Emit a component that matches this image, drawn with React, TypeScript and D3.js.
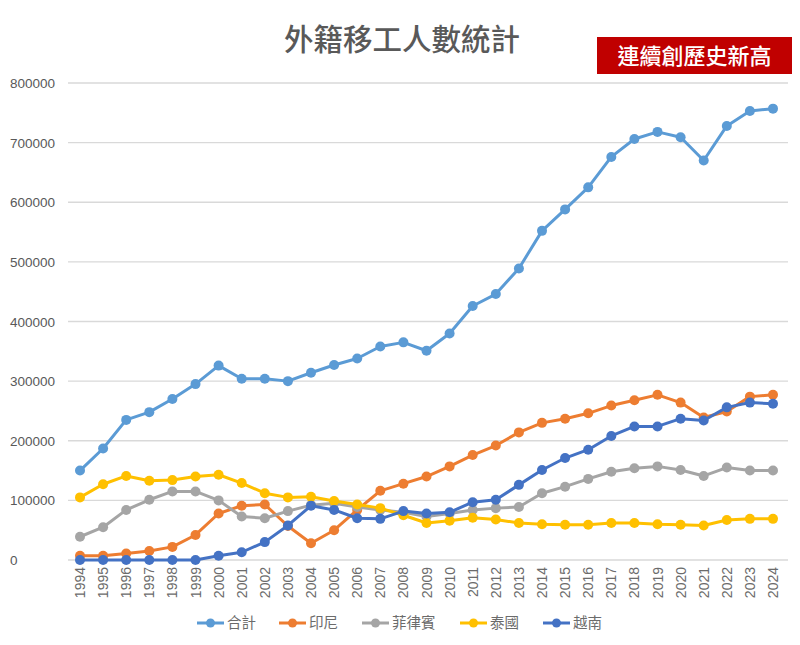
import React from "react";
import * as d3 from "d3";

const years = [1994,1995,1996,1997,1998,1999,2000,2001,2002,2003,2004,2005,2006,2007,2008,2009,2010,2011,2012,2013,2014,2015,2016,2017,2018,2019,2020,2021,2022,2023,2024];

const total = [150000,187000,235000,248000,270000,295000,326000,304000,304000,300000,314000,327000,338000,358000,365000,351000,380000,426000,446000,489000,552000,588000,625000,676000,706000,718000,709000,670000,728000,753000,757000];
const indonesia = [7000,7000,11000,15000,22000,42000,78000,91000,93000,57000,28000,50000,84000,116000,128000,140000,157000,176000,192000,214000,230000,237000,246000,259000,268000,277000,264000,239000,249000,274000,277000];
const philippines = [39000,55000,84000,101000,115000,115000,100000,73000,70000,82000,92000,95000,89000,84000,80000,73000,78000,84000,87000,89000,112000,123000,136000,148000,154000,157000,151000,141000,155000,150000,150000];
const thailand = [105000,127000,141000,133000,134000,140000,143000,129000,112000,105000,106000,99000,93000,87000,75000,62000,66000,71000,68000,62000,60000,59000,59000,62000,62000,60000,59000,58000,67000,69000,69000];
const vietnam = [0,0,0,0,0,100,7000,13000,30000,58000,91000,84000,70000,69000,82000,78000,80000,97000,101000,126000,151000,171000,185000,208000,224000,224000,237000,234000,256000,264000,262000];

const seriesNames = ["合計", "印尼", "菲律賓", "泰國", "越南"];
const seriesColors = ["#5B9BD5", "#ED7D31", "#A5A5A5", "#FFC000", "#4472C4"];
const seriesData = [total, indonesia, philippines, thailand, vietnam];
const yTicks = [0,100000,200000,300000,400000,500000,600000,700000,800000];

const title = "外籍移工人數統計";
const badge = "連續創歷史新高";

export default function App() {
  const W = 800, H = 645;
  const x = d3.scalePoint<number>().domain(years).range([80, 773]);
  const y = d3.scaleLinear().domain([0, 800000]).range([560, 83]);
  const line = d3.line<number>().x((_, i) => x(years[i])!).y(d => y(d));
  const font = "'Noto Sans CJK TC', 'Liberation Sans', sans-serif";
  const legendX = [197, 279, 362, 460, 543];
  return (
    <svg width={W} height={H} style={{ position: "absolute", left: 0, top: 0, background: "#fff" }} fontFamily={font}>
      <rect width={W} height={H} fill="#fff" />
      <text x={402} y={50} textAnchor="middle" fontSize={29.5} fill="#595959" fontWeight={500}>{title}</text>
      <rect x={597} y={37} width={195} height={37} fill="#C00000" />
      <text x={694.5} y={63.5} textAnchor="middle" fontSize={22} fill="#fff" fontWeight={500}>{badge}</text>
      {yTicks.map(t => (
        <g key={t}>
          <line x1={68} x2={788} y1={y(t)} y2={y(t)} stroke="#D9D9D9" strokeWidth={1.3} />
          <text x={10} y={y(t) + 5} fontSize={13.5} fill="#595959" fontFamily="'Liberation Sans', sans-serif">{t}</text>
        </g>
      ))}
      {years.map(yr => (
        <text key={yr} transform={`translate(${x(yr)! + 5},567) rotate(-90)`} textAnchor="end" fontSize={14} fill="#6b6b6b" fontFamily="'Liberation Sans', sans-serif">{yr}</text>
      ))}
      {seriesData.map((data, si) => (
        <g key={si}>
          <path d={line(data)!} fill="none" stroke={seriesColors[si]} strokeWidth={3} strokeLinejoin="round" />
          {data.map((v, i) => (
            <circle key={i} cx={x(years[i])} cy={y(v)} r={5} fill={seriesColors[si]} />
          ))}
        </g>
      ))}
      {seriesNames.map((n, i) => (
        <g key={n}>
          <line x1={legendX[i]} x2={legendX[i] + 27} y1={623} y2={623} stroke={seriesColors[i]} strokeWidth={3} />
          <circle cx={legendX[i] + 13.5} cy={623} r={4.5} fill={seriesColors[i]} />
          <text x={legendX[i] + 30} y={628} fontSize={14.5} fill="#6b6b6b">{n}</text>
        </g>
      ))}
    </svg>
  );
}
